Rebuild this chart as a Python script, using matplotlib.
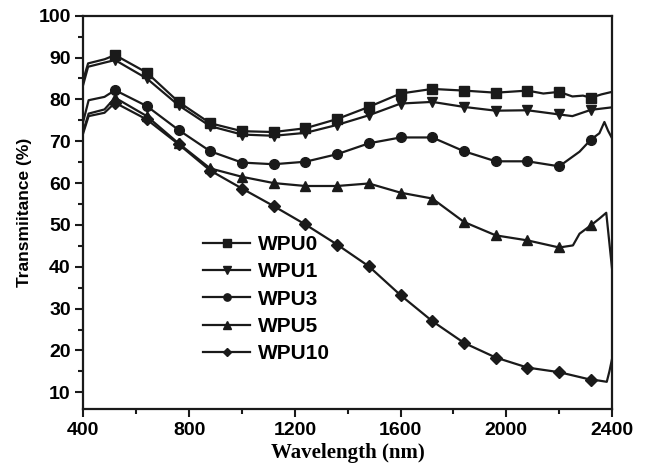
import numpy as np
import matplotlib
matplotlib.use('Agg')
import matplotlib.pyplot as plt
from matplotlib.ticker import MultipleLocator

# Longitudes de onda donde van los marcadores
marker_wl = [520, 640, 760, 880, 1000, 1120, 1240, 1360, 1480, 1600,
             1720, 1840, 1960, 2080, 2200, 2320]

# WPU0
wl_0 = [400, 418, 481, 520, 640, 760, 880, 1000, 1120, 1240, 1360, 1480, 1600,
        1720, 1840, 1960, 2080, 2140, 2200, 2250, 2290, 2320, 2360, 2400]
t_0 = [84.8, 88.6, 89.6, 90.6, 86.4, 79.4, 74.3, 72.4, 72.2, 73.1, 75.3, 78.2, 81.4,
       82.5, 82.1, 81.6, 82.1, 81.4, 81.8, 80.7, 80.9, 80.4, 81.2, 81.8]

# WPU1
wl_1 = [400, 418, 481, 520, 640, 760, 880, 1000, 1120, 1240, 1360, 1480, 1600,
        1720, 1840, 1960, 2080, 2200, 2250, 2320, 2400]
t_1 = [83.6, 87.8, 88.8, 89.4, 85.0, 78.6, 73.6, 71.6, 71.3, 72.0, 73.9, 76.2, 79.0,
       79.4, 78.2, 77.3, 77.4, 76.4, 76.0, 77.5, 78.1]

# WPU3
wl_3 = [400, 420, 480, 520, 640, 760, 880, 1000, 1120, 1240, 1360, 1480, 1600,
        1720, 1840, 1960, 2080, 2200, 2277, 2320, 2352, 2371, 2385, 2400]
t_3 = [74.8, 79.8, 80.6, 82.2, 78.4, 72.7, 67.6, 64.9, 64.5, 65.1, 66.9, 69.5, 70.9,
       70.9, 67.6, 65.2, 65.2, 64.0, 67.5, 70.4, 71.9, 74.6, 72.5, 70.7]

# WPU5
wl_5 = [400, 420, 480, 520, 640, 760, 880, 1000, 1120, 1240, 1360, 1480, 1600,
        1720, 1840, 1960, 2080, 2200, 2252, 2277, 2320, 2352, 2378, 2400]
t_5 = [72.5, 76.6, 77.6, 80.4, 76.0, 69.5, 63.5, 61.5, 60.0, 59.3, 59.3, 59.9, 57.7,
       56.3, 50.7, 47.5, 46.3, 44.6, 45.1, 47.9, 49.9, 51.5, 52.9, 39.5]

# WPU10
wl_10 = [400, 420, 480, 520, 640, 760, 880, 1000, 1120, 1240, 1360, 1480, 1600,
         1720, 1840, 1960, 2080, 2200, 2320, 2350, 2380, 2390, 2400]
t_10 = [72.0, 76.0, 76.8, 79.2, 75.2, 69.3, 63.0, 58.7, 54.5, 50.1, 45.3, 40.1, 33.2,
        27.0, 21.8, 18.3, 15.9, 14.8, 13.0, 12.8, 12.5, 15.0, 18.0]

series = [('WPU0', wl_0, t_0, 's'),
          ('WPU1', wl_1, t_1, 'v'),
          ('WPU3', wl_3, t_3, 'o'),
          ('WPU5', wl_5, t_5, '^'),
          ('WPU10', wl_10, t_10, 'D')]

fig = plt.figure(figsize=(6.47, 4.73), dpi=100)
ax = fig.add_axes([0.1288, 0.1353, 0.946 - 0.1288, 0.9668 - 0.1353])

color = '#1a1a1a'
for nombre, wl, t, mk in series:
    idx = [i for i, w in enumerate(wl) if w in marker_wl]
    ms = 6.0 if mk == 'D' else 7.0
    ax.plot(wl, t, color=color, lw=1.6, marker=mk, markersize=ms,
            markevery=idx, label=nombre)

ax.set_xlim(400, 2400)
ax.set_ylim(6, 100)
ax.xaxis.set_major_locator(MultipleLocator(400))
ax.xaxis.set_minor_locator(MultipleLocator(200))
ax.yaxis.set_major_locator(MultipleLocator(10))
ax.yaxis.set_minor_locator(MultipleLocator(5))
ax.set_yticks(np.arange(10, 101, 10))

ax.tick_params(which='both', direction='out', top=False, right=False,
               width=1.5, color=color)
ax.tick_params(which='major', length=6, labelsize=14, pad=3)
ax.tick_params(which='minor', length=3.5)
for lab in ax.get_xticklabels() + ax.get_yticklabels():
    lab.set_fontweight('bold')
    lab.set_family('Liberation Sans')
for sp in ax.spines.values():
    sp.set_linewidth(1.6)
    sp.set_color(color)

ax.set_xlabel('Wavelength (nm)', family='Liberation Serif', fontweight='bold',
              fontsize=15, labelpad=3)
ax.set_ylabel('Transmiitance (%)', family='Liberation Sans', fontweight='bold',
              fontsize=12.5, labelpad=5)

leg = ax.legend(loc='upper left', bbox_to_anchor=(0.19, 0.49), frameon=False,
                prop={'family': 'Liberation Sans', 'weight': 'bold', 'size': 15},
                handlelength=2.3, labelspacing=0.4, handletextpad=0.35,
                markerscale=0.75)

fig.savefig('out.png', dpi=100)
